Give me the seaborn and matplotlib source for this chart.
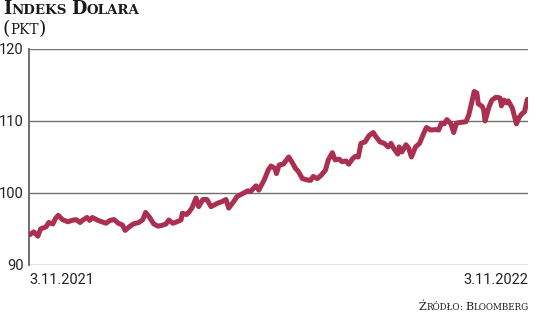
import numpy as np
import pandas as pd
import matplotlib
matplotlib.use("Agg")
import matplotlib.pyplot as plt
import seaborn as sns

# ---- data ----
start_date = "2021-11-03"
end_date = "2022-11-03"
day_offsets = [0, 3, 6, 8, 12, 14, 17, 19, 21, 24, 28, 31, 34, 37, 39, 42, 44, 46, 50, 53,
               56, 59, 62, 65, 68, 70, 73, 76, 80, 83, 85, 88, 91, 94, 97, 100, 102, 105, 108, 111,
               112, 115, 117, 119, 122, 124, 127, 130, 133, 138, 141, 144, 146, 150, 152, 156, 160, 162, 166, 168,
               172, 175, 177, 180, 181, 183, 186, 190, 193, 195, 197, 200, 204, 206, 208, 211, 214, 217, 219, 222,
               224, 227, 229, 232, 234, 237, 239, 241, 243, 246, 249, 252, 254, 257, 260, 263, 265, 267, 270, 271,
               273, 276, 278, 280, 283, 286, 289, 291, 294, 298, 300, 302, 304, 306, 309, 311, 313, 316, 320, 322,
               324, 326, 328, 329, 332, 333, 334, 337, 339, 342, 345, 346, 348, 350, 351, 354, 357, 359, 361, 363,
               365]
index_values = [94.2, 94.6, 94.0, 95.0, 95.3, 95.9, 95.7, 96.5, 96.9, 96.3, 96.0, 96.2, 96.3, 95.9, 96.25, 96.6, 96.2, 96.6, 96.2, 96.0,
                95.8, 96.2, 96.3, 95.8, 95.55, 94.8, 95.3, 95.7, 95.9, 96.3, 97.3, 96.6, 95.7, 95.4, 95.5, 95.7, 96.25, 95.8, 96.0, 96.25,
                97.2, 97.0, 97.4, 97.9, 99.3, 98.1, 99.1, 99.1, 98.1, 98.6, 98.8, 99.1, 97.9, 98.9, 99.5, 99.9, 100.3, 100.2, 101.0, 100.4,
                101.8, 103.2, 103.75, 103.4, 102.7, 103.9, 104.0, 105.0, 104.1, 103.4, 103.0, 102.0, 101.8, 101.75, 102.3, 102.0, 102.5, 103.2, 104.6, 105.6,
                104.6, 104.7, 104.35, 104.45, 104.0, 104.8, 105.1, 105.0, 106.9, 107.1, 108.0, 108.4, 107.8, 107.1, 106.9, 106.4, 106.9, 106.2, 105.4, 106.4,
                105.7, 106.7, 106.2, 105.0, 106.4, 106.9, 108.3, 109.1, 108.75, 108.8, 108.75, 109.7, 109.6, 110.2, 109.6, 108.4, 109.7, 109.8, 109.9, 110.8,
                112.4, 114.1, 113.9, 112.4, 112.0, 111.5, 110.0, 112.0, 112.9, 113.3, 113.2, 112.1, 112.9, 112.5, 112.8, 111.8, 109.6, 110.5, 111.0, 111.3,
                113.0]
y_ticks = [90, 100, 110, 120]
x_labels = ["3.11.2021", "3.11.2022"]
title_runs = [("I", 12.8), ("NDEKS", 9.6), (" ", 9.6), ("D", 12.8), ("OLARA", 9.6)]
unit_runs = [("(", 13.5), ("PKT", 9.8), (")", 13.5)]
source_runs = [("Ź", 8.0), ("RÓDŁO", 6.3), (": ", 6.3), ("B", 8.0), ("LOOMBERG", 6.3)]

df = pd.DataFrame({
    "date": pd.to_datetime(start_date) + pd.to_timedelta(day_offsets, unit="D"),
    "value": index_values,
})

sns.set_theme(style="white")
plt.rcParams["font.family"] = ["Roboto", "DejaVu Sans"]

W, H = 536, 317
fig = plt.figure(figsize=(W / 100, H / 100), dpi=100)
fig.patch.set_facecolor("white")
ax = fig.add_axes([29 / W, (H - 265) / H, (528 - 29) / W, (265 - 49) / H])

grid_c = "#6f6f6f"
for v in y_ticks:
    ax.axhline(v, color=grid_c, lw=1.0, zorder=1)

sns.lineplot(data=df, x="date", y="value", ax=ax, color="#ab2f50", lw=3.6,
             zorder=3, solid_capstyle="round", solid_joinstyle="round")

ax.set_ylim(90, 120)
ax.set_xlim(pd.to_datetime(start_date) - pd.Timedelta(days=0.5), pd.to_datetime(end_date) + pd.Timedelta(days=0.5))
ax.set_yticks(y_ticks)
ax.set_yticklabels([str(v) for v in y_ticks])
ax.set_xticks([])
ax.set_xlabel("")
ax.set_ylabel("")
ax.tick_params(axis="y", length=0, pad=4, labelsize=10.5, colors="#222222")
for s in ["top", "right", "bottom"]:
    ax.spines[s].set_visible(False)
ax.spines["left"].set_color(grid_c)
ax.spines["left"].set_linewidth(1.4)
ax.set_facecolor("white")

ax.text(0.0, -0.035, x_labels[0], transform=ax.transAxes, ha="left", va="top",
        fontsize=10.5, color="#222222")
ax.text(1.0, -0.035, x_labels[1], transform=ax.transAxes, ha="right", va="top",
        fontsize=10.5, color="#222222")

renderer = fig.canvas.get_renderer()


def draw_runs(x_px, y_px, runs, ha="left", weight="normal", family="DejaVu Serif"):
    widths = []
    for txt, size in runs:
        t = fig.text(0, 0, txt.replace(" ", "\u00a0"), fontsize=size, fontweight=weight, family=family)
        bb = t.get_window_extent(renderer)
        widths.append(bb.width)
        t.remove()
    total = sum(widths)
    x0 = x_px - total if ha == "right" else x_px
    for (txt, size), w in zip(runs, widths):
        fig.text(x0 / W, (H - y_px) / H, txt.replace(" ", "\u00a0"), fontsize=size,
                 fontweight=weight, family=family, ha="left", va="baseline", color="#1a1a1a")
        x0 += w


draw_runs(3, 14.5, title_runs, weight="bold")
draw_runs(3, 34, unit_runs)
draw_runs(529, 310, source_runs, ha="right")

fig.savefig("out.png", dpi=100, facecolor="white")
